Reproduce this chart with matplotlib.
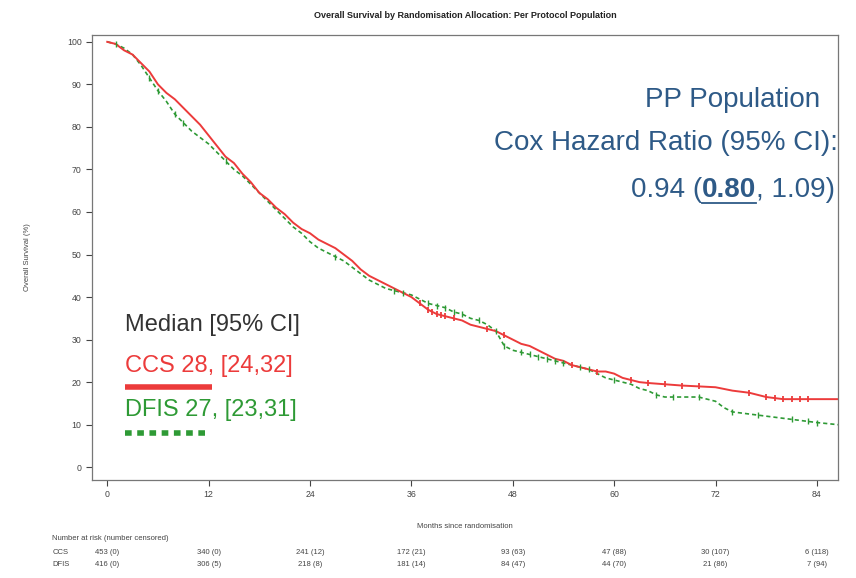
import numpy as np
import matplotlib
matplotlib.use("Agg")
import matplotlib.pyplot as plt

plt.rcParams["font.family"] = ["Liberation Sans", "DejaVu Sans"]

# ---------------- DATA ----------------

# CCS arm (Kaplan-Meier)
ccs_months = [0, 1, 2, 3, 4, 5, 6, 7, 8, 9, 10, 11, 12, 13, 14, 15, 16, 17, 18, 19,
              20, 21, 22, 23, 24, 25, 26, 27, 28, 29, 30, 31, 32, 33, 34, 35, 36, 37,
              38, 39, 40, 41, 42, 43, 44, 45, 46, 47, 48, 49, 50, 51, 52, 53, 54, 55,
              56, 57, 58, 59, 60, 61, 62, 63, 64, 66, 68, 70, 72, 74, 76, 78, 80, 82,
              84, 86.5]
ccs_surv = [100, 99.5, 98, 97, 95, 93, 90, 88, 86.5, 84.5, 82.5, 80.5, 78, 75.5, 73,
            71.5, 69, 67, 64.5, 63, 61, 59.5, 57.5, 56, 55, 53.5, 52.5, 51.5, 50, 48.5,
            46.5, 45, 44, 43, 42, 41, 40, 38.5, 37, 36, 35.5, 35, 34.5, 33.5, 33, 32.5,
            32, 31, 30, 29, 28.5, 27.5, 26.5, 25.5, 25, 24, 23.5, 23, 22.5, 22.5, 22,
            21, 20.5, 20, 19.8, 19.5, 19.2, 19, 18.8, 18, 17.5, 16.5, 16, 16, 16, 16]
ccs_censored = [37, 38, 38.5, 39, 39.5, 40, 41, 45, 47, 55, 58, 62, 64, 66, 68, 70,
                76, 78, 79, 80, 81, 82, 83]

# DFIS arm
dfis_months = [0, 1, 2, 3, 4, 5, 6, 7, 8, 9, 10, 11, 12, 13, 14, 15, 16, 17, 18, 19,
               20, 21, 22, 23, 24, 25, 26, 27, 28, 29, 30, 31, 32, 33, 34, 35, 36, 37,
               38, 39, 40, 41, 42, 43, 44, 45, 46, 47, 48, 49, 50, 51, 52, 53, 54, 55,
               56, 57, 58, 59, 60, 61, 62, 63, 64, 65, 66, 68, 70, 72, 73, 74, 76, 78,
               80, 82, 84, 86.5]
dfis_surv = [100, 99.5, 98.5, 97, 94.5, 91.5, 88.5, 86, 83, 81, 79, 77.5, 76, 74, 72,
             70, 68.5, 66.5, 64.5, 62.5, 60.5, 58.5, 56.5, 55, 53, 51.5, 50.5, 49.5,
             48.5, 47, 45.5, 44, 43, 42, 41.5, 41, 40.5, 39.5, 38.5, 38, 37.5, 36.5, 36,
             35, 34.5, 33.5, 32, 28.5, 27.5, 27, 26.5, 26, 25.5, 25, 24.5, 24, 23.5, 23,
             22, 21, 20.5, 20, 19.5, 18.5, 18, 17, 16.5, 16.5, 16.5, 15.5, 14, 13, 12.5,
             12, 11.5, 11, 10.5, 10]
dfis_censored = [1, 5, 6, 8, 9, 14, 27, 34, 35, 38, 39, 40, 41, 42, 44, 46, 47, 49,
                 50, 51, 52, 53, 54, 56, 57, 60, 65, 67, 70, 74, 77, 81, 83, 84]

# number at risk table
risk_months = [0, 12, 24, 36, 48, 60, 72, 84]
ccs_at_risk = ["453 (0)", "340 (0)", "241 (12)", "172 (21)", "93 (63)", "47 (88)",
               "30 (107)", "6 (118)"]
dfis_at_risk = ["416 (0)", "306 (5)", "218 (8)", "181 (14)", "84 (47)", "44 (70)",
                "21 (86)", "7 (94)"]

red = "#ec3b3b"
green = "#2e9a35"
blue = "#2e5a87"
grey = "#444444"


def km_value(months, surv, t):
    # survival at the censoring times
    return np.interp(t, months, surv)


# ---------------- FIGURE ----------------

fig = plt.figure(figsize=(8.56, 5.78), dpi=100)
ax = fig.add_axes([0.1075, 0.1696, 0.8715, 0.7698])

ax.plot(dfis_months, dfis_surv, color=green, lw=1.2, linestyle=(0, (2.5, 1.8)))
ax.plot(ccs_months, ccs_surv, color=red, lw=1.4)

ax.plot(dfis_censored, km_value(dfis_months, dfis_surv, dfis_censored),
        linestyle="none", marker="|", ms=5, mew=1.0, color=green)
ax.plot(ccs_censored, km_value(ccs_months, ccs_surv, ccs_censored),
        linestyle="none", marker="|", ms=5, mew=1.3, color=red)

ax.set_xlim(-1.8, 86.5)
ax.set_ylim(-3, 101.6)
ax.set_xticks(risk_months)
ax.set_yticks(range(0, 101, 10))
ax.tick_params(labelsize=6.3, colors=grey, length=4, width=0.8)
for s in ax.spines.values():
    s.set_color("#777777")
    s.set_linewidth(0.9)

ax.set_title("Overall Survival by Randomisation Allocation: Per Protocol Population",
             fontsize=6.5, fontweight="bold", color="#222222", pad=12)
ax.set_ylabel("Overall Survival (%)", fontsize=5.5, color=grey, labelpad=26)
ax.set_xlabel("Months since randomisation", fontsize=5.5, color=grey, labelpad=17)

# ---------------- NUMBER AT RISK ----------------

tr = ax.get_xaxis_transform()
fig.text(0.061, 1 - 538 / 578, "Number at risk (number censored)", fontsize=5.5,
         color=grey, va="center")
fig.text(0.061, 1 - 552 / 578, "CCS", fontsize=5.5, color=grey, va="center")
fig.text(0.061, 1 - 564 / 578, "DFIS", fontsize=5.5, color=grey, va="center")
for m, a, b in zip(risk_months, ccs_at_risk, dfis_at_risk):
    ax.text(m, -0.162, a, transform=tr, ha="center", va="center", fontsize=5.5,
            color=grey, clip_on=False)
    ax.text(m, -0.189, b, transform=tr, ha="center", va="center", fontsize=5.5,
            color=grey, clip_on=False)

# ---------------- MEDIAN BOX ----------------

ax.text(0.044, 0.348, "Median [95% CI]", transform=ax.transAxes, fontsize=17,
        color="#333333", va="center")
ax.text(0.044, 0.256, "CCS 28, [24,32]", transform=ax.transAxes, fontsize=17,
        color=red, va="center")
ax.plot([0.044, 0.161], [0.209, 0.209], transform=ax.transAxes, color=red, lw=4,
        solid_capstyle="butt")
ax.text(0.044, 0.157, "DFIS 27, [23,31]", transform=ax.transAxes, fontsize=17,
        color=green, va="center")
ax.plot([0.044, 0.156], [0.106, 0.106], transform=ax.transAxes, color=green, lw=4,
        linestyle=(0, (1.2, 1.0)), dash_capstyle="butt")

# ---------------- HAZARD RATIO ----------------

ax.text(0.976, 0.854, "PP Population", transform=ax.transAxes, fontsize=20,
        color=blue, ha="right", va="center")
ax.text(1.0, 0.757, "Cox Hazard Ratio (95% CI):", transform=ax.transAxes,
        fontsize=20, color=blue, ha="right", va="center")

fig.canvas.draw()
renderer = fig.canvas.get_renderer()
inv = ax.transAxes.inverted()
base_y = 0.635
t3 = ax.text(0.996, base_y, ", 1.09)", transform=ax.transAxes, fontsize=20,
             color=blue, ha="right", va="baseline")
x3 = inv.transform(t3.get_window_extent(renderer).p0)[0]
t2 = ax.text(x3, base_y, "0.80", transform=ax.transAxes, fontsize=20,
             fontweight="bold", color=blue, ha="right", va="baseline")
bb2 = t2.get_window_extent(renderer)
x2 = inv.transform(bb2.p0)[0]
ax.text(x2, base_y, "0.94 (", transform=ax.transAxes, fontsize=20, color=blue,
        ha="right", va="baseline")
ax.plot([x2, x3], [base_y - 0.013, base_y - 0.013], transform=ax.transAxes,
        color=blue, lw=1.3)

fig.savefig("out.png", dpi=100)
